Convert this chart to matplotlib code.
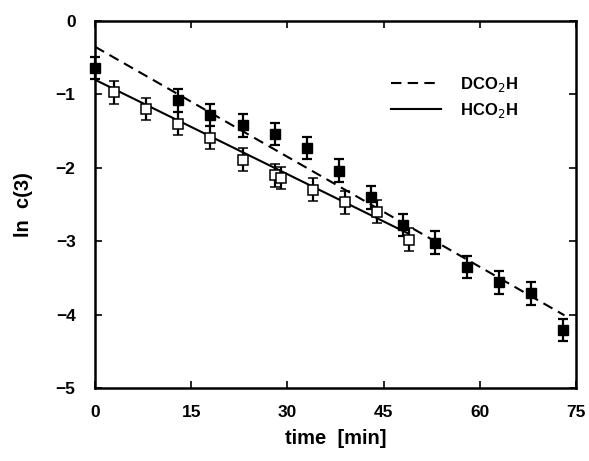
import matplotlib
matplotlib.use("Agg")
import matplotlib.pyplot as plt
import numpy as np

plt.rcParams['font.family'] = ['Liberation Sans', 'DejaVu Sans']

# DCO2H (filled squares)
t_d = [0, 13, 18, 23, 28, 33, 38, 43, 48, 53, 58, 63, 68, 73]
y_d = [-0.64, -1.08, -1.28, -1.42, -1.54, -1.73, -2.04, -2.40, -2.78, -3.02, -3.35, -3.56, -3.71, -4.21]
# HCO2H (open squares)
t_h = [3, 8, 13, 18, 23, 28, 29, 34, 39, 44, 49]
y_h = [-0.97, -1.20, -1.40, -1.59, -1.89, -2.10, -2.14, -2.30, -2.47, -2.60, -2.98]
err = 0.155

# fit lines (intercept, slope, end time)
fit_d = (-0.35, -0.050, 73.2)
fit_h = (-0.80, -0.0429, 48.7)

fig = plt.figure(figsize=(5.89, 4.61), dpi=100)
ax = fig.add_axes([95/589, 1-388/461, (576-95)/589, (388-21)/461])

for (b, m, tend), ls, lab in [(fit_d, (0, (5, 3)), 'DCO$_2$H'), (fit_h, '-', 'HCO$_2$H')]:
    tt = np.array([0, tend])
    ax.plot(tt, b + m*tt, color='black', lw=1.5, linestyle=ls, label=lab)

e1 = ax.errorbar(t_d, y_d, yerr=err, fmt='s', color='black', mfc='black', mec='black',
                 ms=6.5, capsize=3.5, elinewidth=1.6, capthick=1.6, zorder=3)
e2 = ax.errorbar(t_h, y_h, yerr=err, fmt='s', color='black', mfc='white', mec='black',
                 ms=6.5, mew=1.1, capsize=3.5, elinewidth=1.6, capthick=1.6, zorder=3)
for e in (e1, e2):
    e[0].set_clip_on(False)
    for c in e[1]:
        c.set_clip_on(False)
    for b in e[2]:
        b.set_clip_on(False)

ax.set_xlim(0, 75)
ax.set_ylim(-5, 0)
ax.set_xticks([0, 15, 30, 45, 60, 75])
ax.set_yticks([0, -1, -2, -3, -4, -5])
ax.set_yticklabels(['0', '\u22121', '\u22122', '\u22123', '\u22124', '\u22125'])
ax.tick_params(direction='in', length=5, width=1.2, top=True, right=True,
               labelsize=12.5)
ax.tick_params(axis='x', pad=12)
ax.tick_params(axis='y', pad=14)
for lbl in ax.get_xticklabels() + ax.get_yticklabels():
    lbl.set_fontweight('bold')
for s in ax.spines.values():
    s.set_linewidth(1.8)

ax.set_xlabel('time  [min]', fontsize=14.5, fontweight='bold', labelpad=7)
ax.set_ylabel('ln  c(3)', fontsize=14.5, fontweight='bold', labelpad=16)

leg = ax.legend(loc='upper left', bbox_to_anchor=(0.585, 0.895), frameon=False,
                fontsize=12, handlelength=3.0, handletextpad=1.1, labelspacing=0.45)
for txt in leg.get_texts():
    txt.set_fontweight('bold')

fig.savefig('out.png', dpi=100)
